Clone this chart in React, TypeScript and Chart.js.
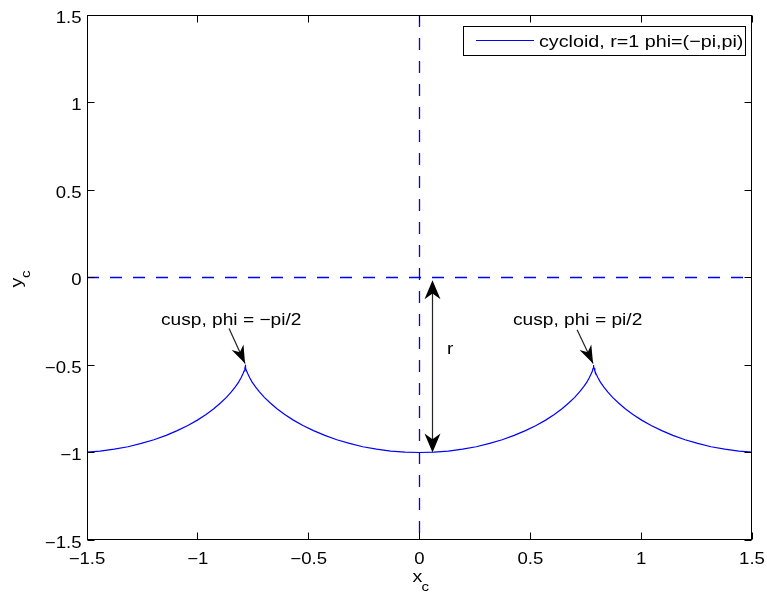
import React, { useEffect, useRef } from "react";
import { Chart, registerables } from "chart.js";

Chart.register(...registerables);

// Cycloid traced for phi in (-pi, pi), r = 1
const cycloidX = [
  -1.571, -1.505, -1.441, -1.377, -1.315, -1.255, -1.198, -1.143, -1.093, -1.045, -1.002, -0.963,
  -0.928, -0.898, -0.871, -0.849, -0.831, -0.816, -0.805, -0.797, -0.791, -0.788, -0.786, -0.786,
  -0.785, -0.785, -0.785, -0.783, -0.78, -0.774, -0.766, -0.755, -0.74, -0.722, -0.7, -0.673,
  -0.643, -0.608, -0.569, -0.526, -0.478, -0.427, -0.373, -0.316, -0.256, -0.194, -0.13, -0.065,
  0,
  0.065, 0.13, 0.194, 0.256, 0.316, 0.373, 0.427, 0.478, 0.526, 0.569, 0.608, 0.643,
  0.673, 0.7, 0.722, 0.74, 0.755, 0.766, 0.774, 0.78, 0.783, 0.785, 0.785, 0.785,
  0.786, 0.786, 0.788, 0.791, 0.797, 0.805, 0.816, 0.831, 0.849, 0.871, 0.898, 0.928,
  0.963, 1.002, 1.045, 1.093, 1.143, 1.198, 1.255, 1.315, 1.377, 1.441, 1.505, 1.571,
];
const cycloidY = [
  -1, -0.998, -0.992, -0.981, -0.967, -0.948, -0.927, -0.902, -0.875, -0.846, -0.815, -0.783,
  -0.75, -0.717, -0.685, -0.654, -0.625, -0.598, -0.573, -0.552, -0.534, -0.519, -0.509, -0.502,
  -0.5, -0.502, -0.509, -0.519, -0.534, -0.552, -0.573, -0.598, -0.625, -0.654, -0.685, -0.717,
  -0.75, -0.783, -0.815, -0.846, -0.875, -0.902, -0.927, -0.948, -0.967, -0.981, -0.992, -0.998,
  -1,
  -0.998, -0.992, -0.981, -0.967, -0.948, -0.927, -0.902, -0.875, -0.846, -0.815, -0.783, -0.75,
  -0.717, -0.685, -0.654, -0.625, -0.598, -0.573, -0.552, -0.534, -0.519, -0.509, -0.502, -0.5,
  -0.502, -0.509, -0.519, -0.534, -0.552, -0.573, -0.598, -0.625, -0.654, -0.685, -0.717, -0.75,
  -0.783, -0.815, -0.846, -0.875, -0.902, -0.927, -0.948, -0.967, -0.981, -0.992, -0.998, -1,
];

const xTickValues = [-1.5, -1, -0.5, 0, 0.5, 1, 1.5];
const yTickValues = [-1.5, -1, -0.5, 0, 0.5, 1, 1.5];
const axisMin = -1.5;
const axisMax = 1.5;

const legendLabel = "cycloid, r=1 phi=(\u2212pi,pi)";
const cuspLeftLabel = "cusp, phi = \u2212pi/2";
const cuspRightLabel = "cusp, phi = pi/2";
const radiusLabel = "r";

// Annotation arrows in data units: [fromX, fromY, tipX, tipY]
const cuspLeftArrow = [-0.859, -0.292, -0.787, -0.492];
const cuspRightArrow = [0.711, -0.298, 0.783, -0.492];
// Double arrow for the radius: [x, topY, bottomY]
const radiusArrow = [0.057, -0.015, -1.0];

const BLUE = "#0000ff";
const FONT = '"Liberation Sans", Arial, Helvetica, sans-serif';
const STRETCH = 1.16;

function fmt(v: number): string {
  return (v < 0 ? "\u2212" : "") + String(Math.abs(v));
}

function drawText(
  ctx: CanvasRenderingContext2D,
  text: string,
  x: number,
  y: number,
  size: number,
  align: CanvasTextAlign = "left"
) {
  ctx.save();
  ctx.font = `${size}px ${FONT}`;
  ctx.fillStyle = "#000";
  ctx.textBaseline = "alphabetic";
  ctx.textAlign = align;
  ctx.translate(x, y);
  ctx.scale(STRETCH, 1);
  ctx.fillText(text, 0, 0);
  ctx.restore();
}

function arrowHead(
  ctx: CanvasRenderingContext2D,
  tipX: number,
  tipY: number,
  fromX: number,
  fromY: number,
  len: number,
  half: number
) {
  const dx = fromX - tipX;
  const dy = fromY - tipY;
  const d = Math.hypot(dx, dy) || 1;
  const ux = dx / d;
  const uy = dy / d;
  const px = -uy;
  const py = ux;
  const bx = tipX + ux * len;
  const by = tipY + uy * len;
  const nx = tipX + ux * len * 0.7;
  const ny = tipY + uy * len * 0.7;
  ctx.beginPath();
  ctx.moveTo(tipX, tipY);
  ctx.lineTo(bx + px * half, by + py * half);
  ctx.lineTo(nx, ny);
  ctx.lineTo(bx - px * half, by - py * half);
  ctx.closePath();
  ctx.fill();
}

const frame = {
  id: "matlabFrame",
  afterDatasetsDraw(chart: any) {
    const { ctx, chartArea: a, scales } = chart;
    const xs = scales.x;
    const ys = scales.y;
    const L = Math.round(a.left) + 0.5;
    const R = Math.round(a.right) - 0.5;
    const T = Math.round(a.top) + 0.5;
    const B = Math.round(a.bottom) - 0.5;

    // Axes box with inward ticks on all four sides
    ctx.save();
    ctx.strokeStyle = "#000";
    ctx.lineWidth = 1;
    ctx.strokeRect(L, T, R - L, B - T);
    ctx.beginPath();
    const tl = 7;
    xs.ticks.forEach((t: any) => {
      const px = Math.floor(xs.getPixelForValue(t.value)) + 0.5;
      ctx.moveTo(px, B);
      ctx.lineTo(px, B - tl);
      ctx.moveTo(px, T);
      ctx.lineTo(px, T + tl);
    });
    ys.ticks.forEach((t: any) => {
      const py = Math.floor(ys.getPixelForValue(t.value)) + 0.5;
      ctx.moveTo(L, py);
      ctx.lineTo(L + tl, py);
      ctx.moveTo(R, py);
      ctx.lineTo(R - tl, py);
    });
    ctx.stroke();
    ctx.restore();

    // Tick labels
    xs.ticks.forEach((t: any) => {
      drawText(ctx, fmt(t.value), xs.getPixelForValue(t.value), B + 24, 16, "center");
    });
    ys.ticks.forEach((t: any) => {
      drawText(ctx, fmt(t.value), L - 6, ys.getPixelForValue(t.value) + 7.5, 16, "right");
    });

    // Axis titles with subscripts
    const xc = (a.left + a.right) / 2;
    drawText(ctx, "x", xc - 7, 582, 17);
    drawText(ctx, "c", xc + 2, 591, 13);
    const yc = (a.top + a.bottom) / 2;
    ctx.save();
    ctx.translate(22, yc + 10);
    ctx.rotate(-Math.PI / 2);
    drawText(ctx, "y", 0, 0, 17);
    drawText(ctx, "c", 9.5, 8, 13);
    ctx.restore();

    // Radius double arrow
    ctx.save();
    ctx.strokeStyle = "#222";
    ctx.fillStyle = "#000";
    ctx.lineWidth = 1.2;
    const ax = Math.floor(xs.getPixelForValue(radiusArrow[0])) + 0.5;
    const aTop = ys.getPixelForValue(radiusArrow[1]);
    const aBot = ys.getPixelForValue(radiusArrow[2]);
    ctx.beginPath();
    ctx.moveTo(ax, aTop + 10);
    ctx.lineTo(ax, aBot - 10);
    ctx.stroke();
    arrowHead(ctx, ax, aTop, ax, aBot, 19, 8);
    arrowHead(ctx, ax, aBot, ax, aTop, 19, 8);

    // Cusp arrows
    [cuspLeftArrow, cuspRightArrow].forEach((arr) => {
      const fx = xs.getPixelForValue(arr[0]);
      const fy = ys.getPixelForValue(arr[1]);
      const tx = xs.getPixelForValue(arr[2]);
      const ty = ys.getPixelForValue(arr[3]);
      ctx.beginPath();
      ctx.moveTo(fx, fy);
      ctx.lineTo(tx, ty);
      ctx.stroke();
      arrowHead(ctx, tx, ty, fx, fy, 18, 6.5);
    });
    ctx.restore();

    drawText(ctx, cuspLeftLabel, 161, 325, 16.5);
    drawText(ctx, cuspRightLabel, 513, 325, 16.5);
    drawText(ctx, radiusLabel, 447, 354, 16.5);

    // Legend box
    ctx.save();
    ctx.fillStyle = "#fff";
    ctx.fillRect(463.5, 26.5, 282, 29);
    ctx.strokeStyle = "#000";
    ctx.lineWidth = 1;
    ctx.strokeRect(463.5, 26.5, 282, 29);
    ctx.strokeStyle = BLUE;
    ctx.lineWidth = 1.2;
    ctx.beginPath();
    ctx.moveTo(476, 40.5);
    ctx.lineTo(534, 40.5);
    ctx.stroke();
    ctx.restore();
    drawText(ctx, legendLabel, 539, 47, 17);
  },
};

export default function App() {
  const canvasRef = useRef<HTMLCanvasElement | null>(null);

  useEffect(() => {
    const canvas = canvasRef.current;
    if (!canvas) return;
    const curve = cycloidX.map((x, i) => ({ x, y: cycloidY[i] }));
    const chart = new Chart(canvas, {
      type: "scatter",
      data: {
        datasets: [
          {
            label: legendLabel,
            data: curve,
            showLine: true,
            borderColor: BLUE,
            borderWidth: 1.2,
            pointRadius: 0,
            tension: 0,
          },
          {
            label: "y = 0",
            data: [
              { x: axisMin, y: 0 },
              { x: axisMax, y: 0 },
            ],
            showLine: true,
            borderColor: BLUE,
            borderWidth: 1.3,
            borderDash: [12, 11],
            pointRadius: 0,
          },
          {
            label: "x = 0",
            data: [
              { x: 0, y: axisMax },
              { x: 0, y: axisMin },
            ],
            showLine: true,
            borderColor: BLUE,
            borderWidth: 1.3,
            borderDash: [12, 11],
            pointRadius: 0,
          },
        ],
      },
      options: {
        responsive: false,
        animation: false,
        layout: { padding: { left: 0, top: 15, right: 15, bottom: 0 } },
        plugins: {
          legend: { display: false },
          tooltip: { enabled: false },
        },
        scales: {
          x: {
            type: "linear",
            min: axisMin,
            max: axisMax,
            grid: { display: false },
            border: { display: false },
            ticks: { display: false },
            afterBuildTicks: (s: any) => {
              s.ticks = xTickValues.map((value) => ({ value }));
            },
            afterFit: (s: any) => {
              s.height = 54;
            },
          },
          y: {
            type: "linear",
            min: axisMin,
            max: axisMax,
            grid: { display: false },
            border: { display: false },
            ticks: { display: false },
            afterBuildTicks: (s: any) => {
              s.ticks = yTickValues.map((value) => ({ value }));
            },
            afterFit: (s: any) => {
              s.width = 87;
            },
          },
        },
      },
      plugins: [frame],
    });
    return () => chart.destroy();
  }, []);

  return (
    <div style={{ position: "absolute", left: 0, top: 0, width: 767, height: 594, background: "#fff" }}>
      <canvas ref={canvasRef} width={767} height={594} style={{ display: "block" }} />
    </div>
  );
}
